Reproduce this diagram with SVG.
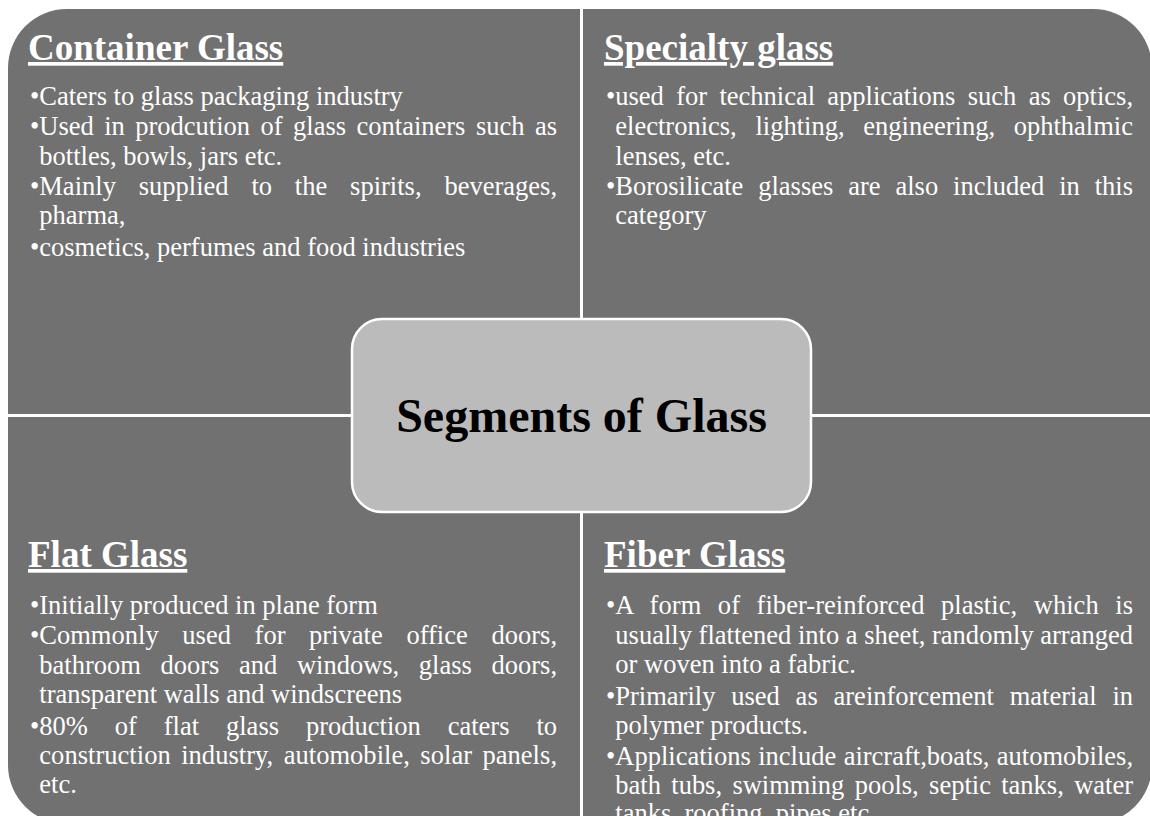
<svg xmlns="http://www.w3.org/2000/svg" width="1150" height="816" viewBox="0 0 1150 816">
  <style>
    .quad { fill: #717171; }
    .head { font-family: "Liberation Serif", "Times New Roman", serif; font-weight: bold; font-size: 37px; fill: #ffffff; text-decoration: underline; }
    .body { font-family: "Liberation Serif", "Times New Roman", serif; font-size: 26.5px; fill: #ffffff; font-variant-ligatures: none; }
    .hub { fill: #bbbbbb; stroke: #ffffff; stroke-width: 2.5; }
    .hub-label { font-family: "Liberation Serif", "Times New Roman", serif; font-weight: bold; font-size: 48px; fill: #000000; text-anchor: middle; }
  </style>
  <rect width="1150" height="816" fill="#ffffff"/>

  <!-- Top-left quadrant -->
  <g id="container-glass">
    <path class="quad" d="M8,414 V68 A59,59 0 0 1 67,9 H580 V414 Z"/>
    <text class="head" x="28" y="60">Container Glass</text>
    <g class="body">
      <text x="30" y="105">•Caters to glass packaging industry</text>
      <text x="30" y="135" word-spacing="3.8" textLength="527" lengthAdjust="spacing">•Used in prodcution of glass containers such as</text>
      <text x="39.3" y="165">bottles, bowls, jars etc.</text>
      <text x="30" y="195" word-spacing="16.2" textLength="527" lengthAdjust="spacing">•Mainly supplied to the spirits, beverages,</text>
      <text x="39.3" y="224">pharma,</text>
      <text x="30" y="256">•cosmetics, perfumes and food industries</text>
    </g>
  </g>

  <!-- Top-right quadrant -->
  <g id="specialty-glass">
    <path class="quad" d="M583,9 H1093 A59,59 0 0 1 1152,68 V414 H583 Z"/>
    <text class="head" x="604" y="60">Specialty glass</text>
    <g class="body">
      <text x="606" y="105" word-spacing="5.7" textLength="527" lengthAdjust="spacing">•used for technical applications such as optics,</text>
      <text x="615.3" y="135" word-spacing="12.1" textLength="517.7" lengthAdjust="spacing">electronics, lighting, engineering, ophthalmic</text>
      <text x="615.3" y="165">lenses, etc.</text>
      <text x="606" y="195" word-spacing="8.3" textLength="527" lengthAdjust="spacing">•Borosilicate glasses are also included in this</text>
      <text x="615.3" y="224">category</text>
    </g>
  </g>

  <!-- Bottom-left quadrant -->
  <g id="flat-glass">
    <path class="quad" d="M8,417 H580 V824 H67 A59,59 0 0 1 8,765 Z"/>
    <text class="head" x="28" y="567">Flat Glass</text>
    <g class="body">
      <text x="30" y="614">•Initially produced in plane form</text>
      <text x="30" y="644" word-spacing="17" textLength="527" lengthAdjust="spacing">•Commonly used for private office doors,</text>
      <text x="39.3" y="674" word-spacing="13" textLength="517.7" lengthAdjust="spacing">bathroom doors and windows, glass doors,</text>
      <text x="39.3" y="703">transparent walls and windscreens</text>
      <text x="30" y="735" word-spacing="20.3" textLength="527" lengthAdjust="spacing">•80% of flat glass production caters to</text>
      <text x="39.3" y="764" word-spacing="3.75" textLength="517.7" lengthAdjust="spacing">construction industry, automobile, solar panels,</text>
      <text x="39.3" y="793">etc.</text>
    </g>
  </g>

  <!-- Bottom-right quadrant -->
  <g id="fiber-glass">
    <path class="quad" d="M583,417 H1152 V765 A59,59 0 0 1 1093,824 H583 Z"/>
    <text class="head" x="604" y="567">Fiber Glass</text>
    <g class="body">
      <text x="606" y="614" word-spacing="9.9" textLength="527" lengthAdjust="spacing">•A form of fiber-reinforced plastic, which is</text>
      <text x="615.3" y="644" textLength="517.7" lengthAdjust="spacing">usually flattened into a sheet, randomly arranged</text>
      <text x="615.3" y="673">or woven into a fabric.</text>
      <text x="606" y="705" word-spacing="9.2" textLength="527" lengthAdjust="spacing">•Primarily used as areinforcement material in</text>
      <text x="615.3" y="734">polymer products.</text>
      <text x="606" y="765" word-spacing="0.8" textLength="527" lengthAdjust="spacing">•Applications include aircraft,boats, automobiles,</text>
      <text x="615.3" y="794" word-spacing="3.7" textLength="517.7" lengthAdjust="spacing">bath tubs, swimming pools, septic tanks, water</text>
      <text x="615.3" y="822">tanks, roofing, pipes etc.</text>
    </g>
  </g>

  <!-- Central hub -->
  <g id="segments-of-glass">
    <rect class="hub" x="352" y="319" width="459" height="193" rx="30" ry="30"/>
    <text class="hub-label" x="581.5" y="432">Segments of Glass</text>
  </g>
</svg>
